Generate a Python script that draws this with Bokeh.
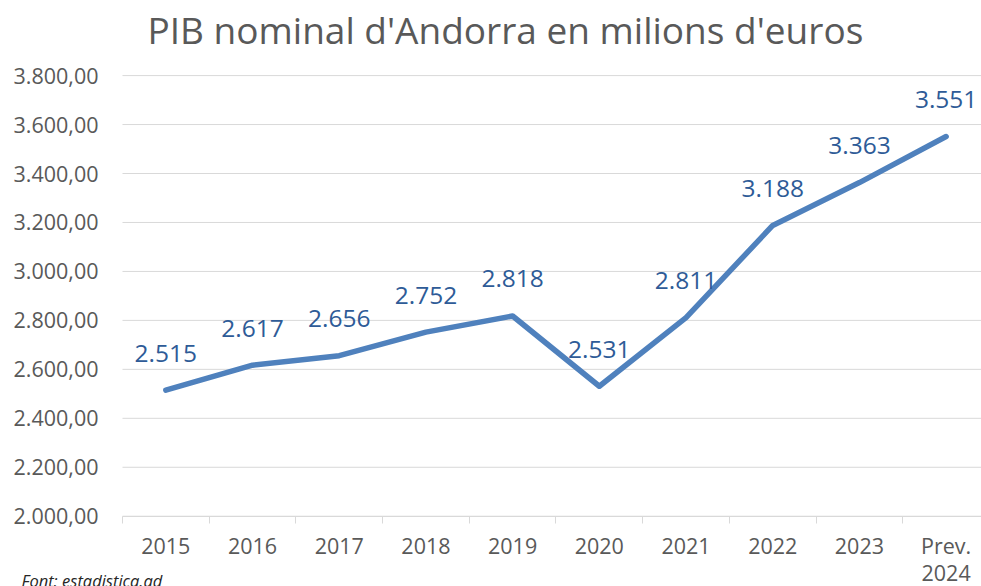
from bokeh.plotting import figure
from bokeh.models import FixedTicker, Range1d, Label, ColumnDataSource
from bokeh.core.properties import value
from bokeh.embed import file_html
from bokeh.resources import INLINE

# ---- data ----
categories = ["2015", "2016", "2017", "2018", "2019", "2020", "2021", "2022", "2023", "Prev.\n2024"]
gdp = [2515, 2617, 2656, 2752, 2818, 2531, 2811, 3188, 3363, 3551]
y_ticks = [2000, 2200, 2400, 2600, 2800, 3000, 3200, 3400, 3600, 3800]
y_tick_labels = ["2.000,00", "2.200,00", "2.400,00", "2.600,00", "2.800,00",
                 "3.000,00", "3.200,00", "3.400,00", "3.600,00", "3.800,00"]
title_text = "PIB nominal d'Andorra en milions d'euros"
source_text = "Font: estadistica.ad"

FONT = "Open Sans"
GRID = "#d9d9d9"
TXT = "#595959"

xs = list(range(len(categories)))
point_labels = [f"{v:,}".replace(",", ".") for v in gdp]
src = ColumnDataSource(dict(x=xs, y=gdp, lab=point_labels))

x_lo, x_hi = -0.5, len(categories) - 0.5          # category band edges
p = figure(width=981, height=586, output_backend="svg", toolbar_location=None,
           x_range=Range1d(-1.907, 9.408), y_range=Range1d(1713, 3878),
           min_border_left=0, min_border_right=0, min_border_top=50,
           min_border_bottom=0)
p.outline_line_color = None
p.background_fill_color = "white"
p.border_fill_color = "white"
p.xgrid.grid_line_color = None
p.ygrid.grid_line_color = None

# title
p.title.text = title_text
p.title.text_font = FONT
p.title.text_font_size = "37px"
p.title.text_font_style = "normal"
p.title.text_color = TXT
p.title.text_line_height = 0.9
p.title.align = "left"
p.title.offset = 147
p.title.standoff = 3

# horizontal gridlines (one per y tick)
p.segment(x0=[x_lo] * len(y_ticks), x1=[x_hi] * len(y_ticks), y0=y_ticks, y1=y_ticks,
          line_color=GRID, line_width=1)

# y axis, fixed at the left edge of the category bands
p.yaxis.fixed_location = x_lo
p.yaxis.ticker = FixedTicker(ticks=y_ticks)
p.yaxis.major_label_overrides = {t: l for t, l in zip(y_ticks, y_tick_labels)}
p.yaxis.axis_line_color = None
p.yaxis.major_tick_line_color = None
p.yaxis.major_tick_out = 0
p.yaxis.minor_tick_line_color = None
p.yaxis.major_label_text_font = FONT
p.yaxis.major_label_text_font_size = "21.5px"
p.yaxis.major_label_text_color = TXT
p.yaxis.major_label_standoff = 24

# x axis, fixed at y = 2000
p.xaxis.fixed_location = y_ticks[0]
p.xaxis.bounds = (x_lo, x_hi)
p.xaxis.ticker = FixedTicker(ticks=xs, minor_ticks=[i - 0.5 for i in range(len(categories) + 1)])
p.xaxis.major_label_overrides = {i: c for i, c in enumerate(categories)}
p.xaxis.axis_line_color = GRID
p.xaxis.axis_line_width = 1
p.xaxis.major_tick_line_color = None
p.xaxis.major_tick_out = 0
p.xaxis.major_tick_in = 0
p.xaxis.minor_tick_line_color = GRID
p.xaxis.minor_tick_out = 7
p.xaxis.minor_tick_in = 0
p.xaxis.major_label_text_font = FONT
p.xaxis.major_label_text_font_size = "21.5px"
p.xaxis.major_label_text_color = TXT
p.xaxis.major_label_standoff = 8
p.xaxis.major_label_text_line_height = 0.93

# series
p.line("x", "y", source=src, line_color="#4f81bd", line_width=5.5, line_join="round", line_cap="round")
p.text("x", "y", text="lab", source=src, text_font=value(FONT), text_font_size="24.5px",
       text_color="#2e5b97", text_align="center", text_baseline="middle", y_offset=-37)

# source note
p.add_layout(Label(x=21, y=6, x_units="screen", y_units="screen", text=source_text,
                   text_font=FONT, text_font_size="16.5px", text_font_style="italic",
                   text_color="#262626", text_baseline="alphabetic"))

open("out.html", "w").write(file_html(p, INLINE))
